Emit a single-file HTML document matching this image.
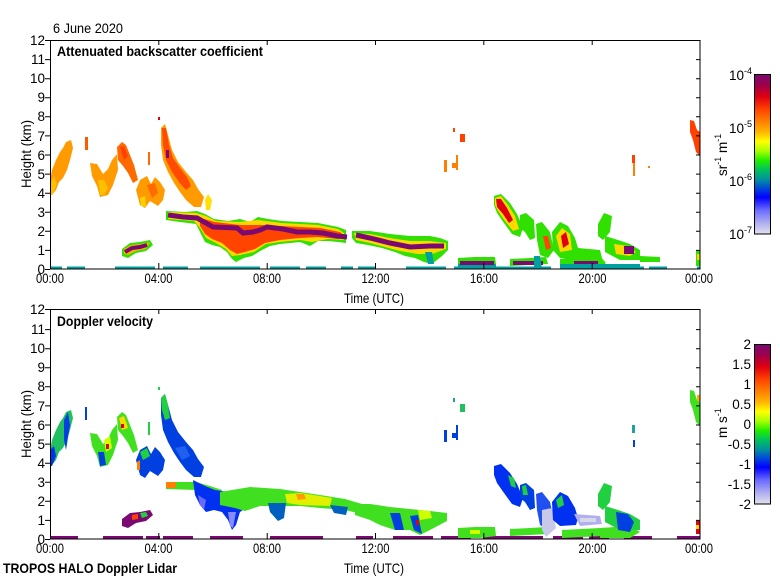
<!DOCTYPE html>
<html>
<head>
<meta charset="utf-8">
<style>
html,body{margin:0;padding:0;background:#fff;}
svg{display:block;}
text{font-family:"Liberation Sans",Arial,sans-serif;fill:#000;}
</style>
</head>
<body>
<svg width="780" height="580" viewBox="0 0 780 580" xmlns="http://www.w3.org/2000/svg">
<defs>
<linearGradient id="cb" x1="0" y1="0" x2="0" y2="1">
<stop offset="0" stop-color="#7a0a72"/>
<stop offset="0.07" stop-color="#a0004a"/>
<stop offset="0.14" stop-color="#e00010"/>
<stop offset="0.22" stop-color="#ff4400"/>
<stop offset="0.30" stop-color="#ff8400"/>
<stop offset="0.36" stop-color="#ffb400"/>
<stop offset="0.42" stop-color="#ffff00"/>
<stop offset="0.48" stop-color="#a8ff00"/>
<stop offset="0.54" stop-color="#20ee00"/>
<stop offset="0.60" stop-color="#00c060"/>
<stop offset="0.66" stop-color="#0090a0"/>
<stop offset="0.72" stop-color="#0040e0"/>
<stop offset="0.77" stop-color="#0000ff"/>
<stop offset="0.85" stop-color="#6a6aff"/>
<stop offset="0.93" stop-color="#aeaef0"/>
<stop offset="1" stop-color="#e2e0ee"/>
</linearGradient>
</defs>

<!-- ================= TOP PANEL DATA ================= -->
<g>
<!-- surface line -->
<line x1="50" y1="267.5" x2="700" y2="267.5" stroke="#00a0a0" stroke-width="2" stroke-dasharray="12 5 18 30 40 8 25 12 60 10 30 6 20 15"/>
<!-- cirrus 00-01 -->
<polygon fill="#ff9a00" points="50,180 52,170 56,160 60,152 63,148 66,142 71,140 73,148 70,160 67,170 63,178 59,182 56,190 52,195 50,194"/>
<polygon fill="#ffc000" points="50,184 54,176 57,184 53,194 50,194"/>
<rect x="85" y="137" width="3" height="13" fill="#ff5a00"/>
<!-- blob 01:30-02:30 -->
<polygon fill="#ff9a00" points="90,163 97,164 103,174 108,169 112,160 117,154 118,170 113,185 108,195 100,197 97,186 92,176"/>
<polygon fill="#ffc000" points="98,180 104,180 108,188 104,195 100,195"/>
<!-- blob 02:30-03:10 -->
<polygon fill="#ff6a00" points="117,147 122,142 126,145 130,155 134,165 138,180 133,183 128,173 123,166 118,160"/>
<polygon fill="#ff4000" points="120,147 124,146 128,156 124,160"/>
<!-- blob 03:10-04:00 -->
<polygon fill="#ff9a00" points="136,190 140,180 147,176 151,184 155,177 160,182 165,190 163,200 158,206 150,201 145,208 140,205"/>
<polygon fill="#ff6a00" points="147,185 155,183 158,193 152,198"/>
<polygon fill="#ffd000" points="140,198 145,196 146,207 141,206"/>
<rect x="148" y="152" width="2" height="13" fill="#ff6a00"/>
<!-- low cloud 02:50-03:50 -->
<polygon fill="#30e000" points="122,249 130,243 140,242 150,240 153,245 146,251 136,253 128,258 122,256"/>
<polygon fill="#ffb000" points="124,249 131,245 141,244 150,242 146,249 136,251 128,255 124,254"/>
<polyline fill="none" stroke="#7a0a72" stroke-width="4" points="125,252 132,248 140,247 147,245"/>
<!-- descending band from 04:00 -->
<rect x="158" y="117" width="2" height="3" fill="#e00010"/>
<polygon fill="#ff9a00" points="161,128 165,124 168,135 172,150 178,162 186,172 193,180 198,189 204,197 201,207 194,207 186,200 180,192 174,183 168,172 163,160 161,145"/>
<polygon fill="#ff4a00" points="162,128 166,128 169,145 173,158 180,168 187,177 191,186 186,190 179,182 172,172 166,160 163,145"/>
<rect x="166" y="150" width="3" height="8" fill="#7a0a72"/>
<polygon fill="#ffe000" points="205,200 208,194 212,200 210,210 206,210"/>
<!-- main layer segment 1 -->
<polygon fill="#30e000" points="166,211 185,212 197,211 205,214 214,219 228,221 240,219 250,222 258,217 268,219 282,221 300,222 318,223 338,227 346,230 346,243 338,242 328,241 318,241 310,246 300,242 290,243 280,244 270,246 262,250 252,256 244,258 236,262 232,259 227,252 220,247 212,245 205,242 200,232 196,224 180,222 166,220"/>
<polygon fill="#ffd800" points="168,212 196,213 206,216 216,221 240,222 258,220 282,223 318,225 338,229 344,233 344,240 328,239 312,242 300,240 280,242 266,244 254,252 240,255 232,256 226,249 216,243 206,238 200,228 194,221 168,219"/>
<polygon fill="#ff4400" points="200,218 215,222 240,225 260,225 280,226 300,227 320,228 340,232 345,236 338,239 318,237 300,238 280,240 265,243 255,249 245,252 237,254 230,250 222,243 212,239 205,234 200,226"/>
<polyline fill="none" stroke="#7a0a72" stroke-width="5" points="168,215 183,217 197,218 213,227 237,228 243,233 253,232 260,230 267,227 283,229 297,232 310,232 323,233 337,236 347,237"/>
<!-- main layer segment 2 -->
<polygon fill="#30e000" points="352,231 370,231 390,234 410,236 430,236 440,238 448,241 448,250 442,256 432,264 424,262 415,258 405,256 395,252 382,248 368,245 356,243 352,238"/>
<polygon fill="#ffd800" points="354,233 370,234 390,238 410,241 430,241 446,243 446,249 432,254 418,254 400,251 385,247 370,243 356,240"/>
<polygon fill="#00a0a0" points="425,252 432,252 434,264 428,264"/>
<polyline fill="none" stroke="#7a0a72" stroke-width="5" points="356,235 370,238 390,243 410,247 430,246 444,246"/>
<!-- afternoon low layers -->
<polygon fill="#30e000" points="458,258 475,257 495,257 496,264 480,268 458,268"/>
<polygon fill="#00a0a0" points="458,264 496,264 496,269 458,269"/>
<rect x="460" y="261" width="34" height="4" fill="#7a0a72"/>
<polygon fill="#30e000" points="510,259 530,258 546,257 548,264 510,266"/>
<rect x="513" y="261" width="30" height="4" fill="#7a0a72"/>
<polygon fill="#00a0a0" points="534,256 540,256 542,269 534,269"/>
<polygon fill="#30e000" points="560,259 600,256 606,263 600,268 560,268"/>
<rect x="574" y="261" width="24" height="4" fill="#7a0a72"/>
<polygon fill="#00a0a0" points="560,264 640,264 640,269 560,269"/>
<!-- afternoon plume -->
<polygon fill="#30e000" points="494,196 501,194 510,203 517,214 523,228 520,237 512,234 504,223 497,213 494,205"/>
<polygon fill="#ffd800" points="495,198 501,196 508,205 515,216 519,229 513,231 505,221 498,211 495,205"/>
<polygon fill="#e00010" points="496,199 501,199 507,208 513,220 509,223 503,214 497,207"/>
<polygon fill="#30e000" points="520,215 526,213 534,220 535,238 530,240 525,232 520,228"/>
<polygon fill="#30e000" points="536,224 542,222 550,232 554,250 548,258 540,255 537,240"/>
<polygon fill="#ff4400" points="543,236 548,236 551,248 546,250"/>
<polygon fill="#30e000" points="552,232 560,222 568,226 575,238 578,248 600,250 602,258 580,260 560,258 553,250"/>
<polygon fill="#ffd800" points="556,236 562,228 570,234 572,250 560,252"/>
<polygon fill="#e00010" points="561,236 566,232 569,244 563,248"/>
<polygon fill="#30e000" points="598,224 604,213 612,216 610,232 603,240 598,236"/>
<polygon fill="#30e000" points="605,236 618,240 630,244 640,250 640,260 620,260 605,252"/>
<polygon fill="#ffd800" points="614,244 628,246 636,252 630,256 616,254"/>
<rect x="624" y="246" width="10" height="8" fill="#7a0a72"/>
<polygon fill="#30e000" points="640,256 660,257 660,262 640,262"/>
<!-- high cirrus afternoon -->
<rect x="444" y="160" width="3" height="12" fill="#ff8000"/>
<rect x="452" y="163" width="5" height="5" fill="#ff8000"/>
<rect x="456" y="155" width="2" height="15" fill="#ff8000"/>
<rect x="453" y="128" width="2" height="4" fill="#ff4000"/>
<rect x="460" y="134" width="5" height="8" fill="#ff4000"/>
<rect x="632" y="155" width="3" height="8" fill="#ff4000"/>
<rect x="633" y="163" width="2" height="13" fill="#ff8000"/>
<rect x="648" y="166" width="2" height="2" fill="#ff8000"/>
<polygon fill="#ff4000" points="690,120 694,121 697,130 700,132 700,156 696,152 693,140 690,132"/>
<polygon fill="#30e000" points="696,250 700,250 700,266 696,266"/>
<rect x="697" y="254" width="3" height="6" fill="#ffd800"/>
</g>

<!-- ================= BOTTOM PANEL DATA ================= -->
<g>
<line x1="50" y1="537.5" x2="700" y2="537.5" stroke="#7a0a72" stroke-width="3" stroke-dasharray="28 25 40 3 14 3 30 17 33 27 53 33 17 20 40 8 30 12 60 10 30 6 20 15"/>
<!-- cirrus 00-01 -->
<polygon fill="#20c060" points="50,450 52,440 56,430 60,422 63,418 66,412 71,410 73,418 70,430 67,440 63,448 59,452 56,460 52,465 50,464"/>
<polygon fill="#0030f0" points="50,450 54,446 56,456 52,466 50,466"/>
<polygon fill="#0040e0" points="64,420 68,412 70,425 66,450 64,440"/>
<rect x="85" y="407" width="2" height="13" fill="#0040e0"/>
<!-- blob 01:30-02:30 -->
<polygon fill="#40e020" points="90,433 97,434 103,444 108,439 112,430 117,424 118,440 113,455 108,465 100,467 97,456 92,446"/>
<polygon fill="#d0ff00" points="104,440 110,436 112,448 106,452"/>
<polygon fill="#0040e0" points="98,452 104,452 106,465 100,466"/>
<rect x="106" y="444" width="3" height="5" fill="#e00010"/>
<!-- blob 02:30-03:10 -->
<polygon fill="#40e020" points="117,417 122,412 126,415 130,425 134,435 138,450 133,453 128,443 123,436 118,430"/>
<polygon fill="#ffd800" points="119,418 124,416 128,428 122,430"/>
<rect x="121" y="424" width="3" height="4" fill="#e00010"/>
<!-- blob 03:10-04:00 -->
<polygon fill="#0040e0" points="136,460 140,450 147,446 151,454 155,447 160,452 165,460 163,470 158,476 150,471 145,478 140,475"/>
<polygon fill="#20d040" points="140,452 147,448 150,456 143,460"/>
<polygon fill="#ff8000" points="137,462 140,460 140,470 137,470"/>
<rect x="148" y="422" width="2" height="13" fill="#20d040"/>
<!-- low cloud -->
<polygon fill="#7a0a72" points="122,519 130,513 140,512 150,510 153,515 146,521 136,523 128,528 122,526"/>
<polygon fill="#ff4000" points="132,515 138,514 138,519 132,520"/>
<polygon fill="#20d040" points="140,513 146,512 148,516 142,518"/>
<!-- descending band -->
<rect x="158" y="387" width="2" height="3" fill="#20d040"/>
<polygon fill="#0040e0" points="161,398 165,394 168,405 172,420 178,432 186,442 193,450 198,459 204,467 201,477 194,477 186,470 180,462 174,453 168,442 163,430 161,415"/>
<polygon fill="#20d040" points="161,398 165,394 168,405 170,418 165,420 162,410"/>
<polygon fill="#2060f0" points="175,448 185,446 190,456 182,460"/>
<!-- 2.9 km layer -->
<polygon fill="#40e020" points="166,482 196,482 210,486 222,490 222,498 210,494 196,490 166,489"/>
<polygon fill="#ff8000" points="166,482 176,482 176,488 166,488"/>
<!-- deep blue area -->
<polygon fill="#0030f0" points="193,480 205,486 215,490 228,492 240,490 246,493 246,508 240,512 236,525 232,530 228,520 222,512 214,510 206,512 200,505 195,495"/>
<polygon fill="#6a6aff" points="198,495 206,500 204,510 200,505"/>
<polygon fill="#8a8aff" points="228,512 236,512 233,528 230,526"/>
<!-- green band -->
<polygon fill="#40e020" points="220,492 250,487 280,489 300,492 320,495 345,499 362,504 362,514 345,510 320,508 300,506 280,506 260,506 245,511 235,508 220,505"/>
<polygon fill="#e0f000" points="285,494 300,493 320,496 332,498 330,506 300,505 287,503"/>
<polygon fill="#ff9a00" points="296,494 304,494 306,499 298,500"/>
<polygon fill="#0060c0" points="268,503 286,503 284,518 278,521 270,512"/>
<polygon fill="#0060c0" points="330,505 348,507 346,515 334,513"/>
<!-- segment 2 -->
<polygon fill="#40e020" points="355,504 370,504 390,507 410,509 430,511 447,513 447,521 430,530 420,535 410,530 395,530 380,525 370,520 355,515"/>
<polygon fill="#0040e0" points="390,513 400,513 404,530 395,530"/>
<polygon fill="#0040e0" points="410,516 418,515 422,534 414,530"/>
<polygon fill="#d0ff00" points="418,510 430,511 432,518 420,520"/>
<polygon fill="#e00010" points="416,520 419,520 419,525 416,525"/>
<!-- afternoon low layers -->
<polygon fill="#40e020" points="458,528 475,527 495,527 496,536 480,538 458,538"/>
<polygon fill="#d0ff00" points="470,530 480,530 480,534 470,534"/>
<polygon fill="#40e020" points="510,529 530,528 546,527 548,534 510,536"/>
<polygon fill="#40e020" points="562,530 600,528 602,536 562,538"/>
<polygon fill="#40e020" points="600,528 630,526 640,532 630,538 600,538"/>
<!-- plume -->
<polygon fill="#0030f0" points="494,466 501,464 510,473 517,484 523,498 520,507 512,504 504,493 497,483 494,475"/>
<polygon fill="#20d040" points="508,475 514,478 516,488 511,486"/>
<polygon fill="#0040e0" points="520,485 526,483 534,490 535,508 530,510 525,502 520,498"/>
<polygon fill="#20d040" points="522,486 526,485 528,495 523,495"/>
<polygon fill="#2050f0" points="536,494 542,492 550,502 554,520 548,530 540,525 537,510"/>
<polygon fill="#c8c8e8" points="542,510 552,508 556,528 546,537 542,530"/>
<polygon fill="#0030f0" points="552,502 560,492 568,496 575,508 578,518 576,525 560,526 553,520"/>
<polygon fill="#20d040" points="556,500 562,495 564,505 558,508"/>
<polygon fill="#b0b0f0" points="574,514 600,516 602,524 580,526"/>
<polygon fill="#d8d8e8" points="580,518 596,518 596,522 580,522"/>
<polygon fill="#20d040" points="598,494 604,483 612,486 610,502 603,510 598,506"/>
<polygon fill="#20d040" points="605,506 618,510 630,514 640,520 640,530 620,530 605,522"/>
<polygon fill="#0040e0" points="616,512 628,514 634,522 630,532 618,530"/>
<!-- high cirrus -->
<rect x="444" y="430" width="3" height="12" fill="#0040e0"/>
<rect x="452" y="433" width="5" height="5" fill="#0040e0"/>
<rect x="456" y="425" width="2" height="15" fill="#0040e0"/>
<rect x="453" y="398" width="2" height="4" fill="#20a0a0"/>
<rect x="460" y="404" width="5" height="8" fill="#20c060"/>
<rect x="632" y="425" width="3" height="8" fill="#20a0a0"/>
<rect x="633" y="440" width="2" height="7" fill="#0040e0"/>
<polygon fill="#40e020" points="690,390 694,391 697,400 700,402 700,426 696,422 693,410 690,402"/>
<rect x="697" y="395" width="3" height="6" fill="#ffb000"/>
<polygon fill="#e00010" points="696,520 700,520 700,534 696,534"/>
<rect x="696" y="525" width="3" height="4" fill="#ffd800"/>
</g>

<!-- ================= AXES ================= -->
<g fill="none" stroke="#000" stroke-width="1">
<rect x="50.5" y="40.5" width="649.5" height="228.5"/>
<rect x="50.5" y="309.5" width="649.5" height="229.5"/>
<!-- top panel y ticks -->
<path d="M45 269.5H50 M45 250.4H50 M45 231.3H50 M45 212.2H50 M45 193.2H50 M45 174.1H50 M45 155H50 M45 135.9H50 M45 116.8H50 M45 97.7H50 M45 78.7H50 M45 59.6H50 M45 40.5H50"/>
<path d="M696 250.4H700 M696 231.3H700 M696 212.2H700 M696 193.2H700 M696 174.1H700 M696 155H700 M696 135.9H700 M696 116.8H700 M696 97.7H700 M696 78.7H700 M696 59.6H700"/>
<path d="M158.8 41V45 M267.2 41V45 M375.5 41V45 M483.8 41V45 M592.2 41V45"/>
<path d="M158.8 263V269 M267.2 263V269 M375.5 263V269 M483.8 263V269 M592.2 263V269"/>
<!-- bottom panel y ticks -->
<path d="M45 539.5H50 M45 520.4H50 M45 501.3H50 M45 482.2H50 M45 463.2H50 M45 444.1H50 M45 425H50 M45 405.9H50 M45 386.8H50 M45 367.7H50 M45 348.7H50 M45 329.6H50 M45 309.5H50"/>
<path d="M696 520.4H700 M696 501.3H700 M696 482.2H700 M696 463.2H700 M696 444.1H700 M696 425H700 M696 405.9H700 M696 386.8H700 M696 367.7H700 M696 348.7H700 M696 329.6H700"/>
<path d="M158.8 310V314 M267.2 310V314 M375.5 310V314 M483.8 310V314 M592.2 310V314"/>
<path d="M158.8 533V539 M267.2 533V539 M375.5 533V539 M483.8 533V539 M592.2 533V539"/>
</g>

<!-- colorbars -->
<rect x="754.5" y="74.5" width="16" height="159.5" fill="url(#cb)" stroke="#000" stroke-width="1"/>
<rect x="754.5" y="344.5" width="16" height="159.5" fill="url(#cb)" stroke="#000" stroke-width="1"/>

<!-- ================= TEXT ================= -->
<g font-size="13.5" text-anchor="end">
<text x="45" y="274">0</text><text x="45" y="255">1</text><text x="45" y="236">2</text><text x="45" y="217">3</text>
<text x="45" y="198">4</text><text x="45" y="179">5</text><text x="45" y="160">6</text><text x="45" y="141">7</text>
<text x="45" y="121">8</text><text x="45" y="102">9</text><text x="45" y="83">10</text><text x="45" y="64">11</text><text x="45" y="45">12</text>
<text x="45" y="544">0</text><text x="45" y="525">1</text><text x="45" y="506">2</text><text x="45" y="487">3</text>
<text x="45" y="468">4</text><text x="45" y="449">5</text><text x="45" y="430">6</text><text x="45" y="411">7</text>
<text x="45" y="391">8</text><text x="45" y="372">9</text><text x="45" y="353">10</text><text x="45" y="334">11</text><text x="45" y="314">12</text>
</g>
<g font-size="14">
<text x="36" y="283" textLength="28" lengthAdjust="spacingAndGlyphs">00:00</text>
<text x="144.5" y="283" textLength="28" lengthAdjust="spacingAndGlyphs">04:00</text>
<text x="253" y="283" textLength="28" lengthAdjust="spacingAndGlyphs">08:00</text>
<text x="361.5" y="283" textLength="28" lengthAdjust="spacingAndGlyphs">12:00</text>
<text x="470" y="283" textLength="28" lengthAdjust="spacingAndGlyphs">16:00</text>
<text x="578.5" y="283" textLength="28" lengthAdjust="spacingAndGlyphs">20:00</text>
<text x="685" y="283" textLength="28" lengthAdjust="spacingAndGlyphs">00:00</text>
<text x="36" y="553" textLength="28" lengthAdjust="spacingAndGlyphs">00:00</text>
<text x="144.5" y="553" textLength="28" lengthAdjust="spacingAndGlyphs">04:00</text>
<text x="253" y="553" textLength="28" lengthAdjust="spacingAndGlyphs">08:00</text>
<text x="361.5" y="553" textLength="28" lengthAdjust="spacingAndGlyphs">12:00</text>
<text x="470" y="553" textLength="28" lengthAdjust="spacingAndGlyphs">16:00</text>
<text x="578.5" y="553" textLength="28" lengthAdjust="spacingAndGlyphs">20:00</text>
<text x="685" y="553" textLength="28" lengthAdjust="spacingAndGlyphs">00:00</text>
<text x="344" y="303" textLength="60" lengthAdjust="spacingAndGlyphs">Time (UTC)</text>
<text x="344" y="573" textLength="60" lengthAdjust="spacingAndGlyphs">Time (UTC)</text>
<text x="53" y="33" textLength="70" lengthAdjust="spacingAndGlyphs">6 June 2020</text>
<text transform="translate(31,188) rotate(-90)" textLength="68" lengthAdjust="spacingAndGlyphs">Height (km)</text>
<text transform="translate(31,458) rotate(-90)" textLength="68" lengthAdjust="spacingAndGlyphs">Height (km)</text>
</g>
<g font-size="14" font-weight="bold">
<text x="57" y="56" textLength="206" lengthAdjust="spacingAndGlyphs">Attenuated backscatter coefficient</text>
<text x="57" y="326" textLength="96" lengthAdjust="spacingAndGlyphs">Doppler velocity</text>
<text x="3" y="573" textLength="174" lengthAdjust="spacingAndGlyphs">TROPOS HALO Doppler Lidar</text>
</g>
<!-- colorbar labels top -->
<g font-size="13.5">
<text x="729" y="80">10<tspan font-size="9" dy="-6">-4</tspan></text>
<text x="729" y="133">10<tspan font-size="9" dy="-6">-5</tspan></text>
<text x="729" y="186">10<tspan font-size="9" dy="-6">-6</tspan></text>
<text x="729" y="239">10<tspan font-size="9" dy="-6">-7</tspan></text>
<text transform="translate(727,176) rotate(-90)">sr<tspan font-size="9" dy="-6">-1</tspan><tspan dy="6"> m</tspan><tspan font-size="9" dy="-6">-1</tspan></text>
<text transform="translate(727,438) rotate(-90)">m s<tspan font-size="9" dy="-6">-1</tspan></text>
</g>
<g font-size="13.5" text-anchor="end">
<text x="751" y="349">2</text>
<text x="751" y="369">1.5</text>
<text x="751" y="389">1</text>
<text x="751" y="409">0.5</text>
<text x="751" y="429">0</text>
<text x="751" y="449">-0.5</text>
<text x="751" y="469">-1</text>
<text x="751" y="489">-1.5</text>
<text x="751" y="509">-2</text>
</g>
</svg>
</body>
</html>
